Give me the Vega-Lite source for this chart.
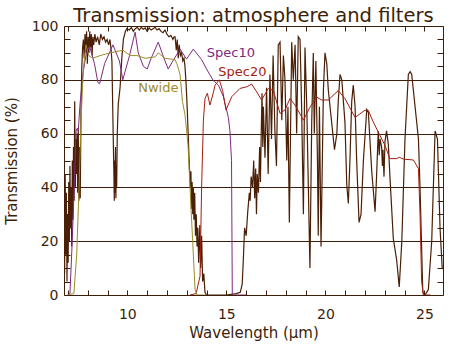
{
  "$schema": "https://vega.github.io/schema/vega-lite/v6.json",
  "width": 379,
  "height": 269,
  "autosize": "none",
  "padding": {"left": 64, "top": 26, "right": 11, "bottom": 58},
  "background": "white",
  "title": {"text": "Transmission: atmosphere and filters", "font": "DejaVu Sans", "fontSize": 19.5, "fontWeight": "normal", "color": "#3c1e0a", "anchor": "middle", "offset": 6, "dy": 13},
  "config": {
    "view": {"stroke": "#3c1e0a", "strokeWidth": 1},
    "axis": {"domain": false, "labelFont": "DejaVu Sans", "titleFont": "DejaVu Sans", "labelColor": "#3c1e0a", "titleColor": "#3c1e0a", "tickColor": "#3c1e0a", "labelFontSize": 14, "titleFontSize": 15, "titleFontWeight": "normal"}
  },
  "datasets": {
    "atm": [
      {"x":6.80,"y":30},{"x":6.83,"y":8},{"x":6.86,"y":45},{"x":6.89,"y":15},{"x":6.92,"y":38},{"x":6.95,"y":5},{"x":6.98,"y":30},{"x":7.01,"y":12},{"x":7.04,"y":42},{"x":7.07,"y":20},{"x":7.10,"y":48},{"x":7.13,"y":25},{"x":7.16,"y":40},{"x":7.19,"y":18},{"x":7.22,"y":50},{"x":7.25,"y":28},{"x":7.28,"y":55},{"x":7.31,"y":35},{"x":7.34,"y":72},{"x":7.37,"y":40},{"x":7.40,"y":58},{"x":7.43,"y":45},{"x":7.46,"y":60},{"x":7.49,"y":38},{"x":7.52,"y":62},{"x":7.55,"y":35},{"x":7.58,"y":55},{"x":7.62,"y":36},{"x":7.66,"y":70},{"x":7.70,"y":85},{"x":7.74,"y":92},{"x":7.78,"y":95},{"x":7.82,"y":88},{"x":7.86,"y":97},{"x":7.90,"y":90},{"x":7.94,"y":98},{"x":7.98,"y":86},{"x":8.02,"y":96},{"x":8.06,"y":90},{"x":8.10,"y":98},{"x":8.14,"y":92},{"x":8.18,"y":97},{"x":8.22,"y":89},{"x":8.26,"y":96},{"x":8.30,"y":93},{"x":8.36,"y":97},{"x":8.42,"y":94},{"x":8.50,"y":96},{"x":8.58,"y":93},{"x":8.66,"y":97},{"x":8.74,"y":95},{"x":8.82,"y":96},{"x":8.90,"y":94},{"x":8.98,"y":95},{"x":9.05,"y":93},{"x":9.12,"y":95},{"x":9.18,"y":91},{"x":9.22,"y":87},{"x":9.26,"y":70},{"x":9.29,"y":57},{"x":9.32,"y":45},{"x":9.34,"y":35},{"x":9.36,"y":50},{"x":9.38,"y":38},{"x":9.40,"y":55},{"x":9.42,"y":36},{"x":9.44,"y":48},{"x":9.46,"y":40},{"x":9.49,"y":60},{"x":9.54,"y":71},{"x":9.63,"y":77},{"x":9.72,"y":88},{"x":9.80,"y":95},{"x":9.90,"y":98},{"x":9.97,"y":99},{"x":10.1,"y":98.5},{"x":10.2,"y":99.5},{"x":10.3,"y":98},{"x":10.4,"y":99},{"x":10.5,"y":99.5},{"x":10.6,"y":98.5},{"x":10.7,"y":99.5},{"x":10.8,"y":98.8},{"x":10.9,"y":99.3},{"x":11.0,"y":98},{"x":11.1,"y":99.3},{"x":11.2,"y":98.5},{"x":11.3,"y":99},{"x":11.4,"y":99.5},{"x":11.5,"y":98.5},{"x":11.6,"y":99},{"x":11.7,"y":98},{"x":11.8,"y":97.5},{"x":11.9,"y":98.5},{"x":12.0,"y":97},{"x":12.1,"y":96},{"x":12.2,"y":96.5},{"x":12.3,"y":95},{"x":12.36,"y":96},{"x":12.41,"y":96},{"x":12.47,"y":91},{"x":12.52,"y":95},{"x":12.57,"y":88},{"x":12.62,"y":93},{"x":12.68,"y":89},{"x":12.74,"y":90},{"x":12.80,"y":87},{"x":12.86,"y":88},{"x":12.91,"y":85},{"x":12.97,"y":78},{"x":13.03,"y":68},{"x":13.08,"y":58},{"x":13.13,"y":48},{"x":13.18,"y":40},{"x":13.21,"y":46},{"x":13.24,"y":32},{"x":13.27,"y":42},{"x":13.30,"y":30},{"x":13.33,"y":40},{"x":13.36,"y":28},{"x":13.40,"y":38},{"x":13.44,"y":22},{"x":13.48,"y":30},{"x":13.52,"y":18},{"x":13.56,"y":25},{"x":13.60,"y":12},{"x":13.66,"y":26},{"x":13.70,"y":10},{"x":13.75,"y":22},{"x":13.80,"y":5},{"x":13.86,"y":8},{"x":13.92,"y":1},{"x":14.0,"y":0},{"x":15.0,"y":0},{"x":15.5,"y":0.5},{"x":15.7,"y":1},{"x":15.8,"y":4},{"x":15.85,"y":12},{"x":15.92,"y":25},{"x":16.00,"y":22},{"x":16.08,"y":31},{"x":16.16,"y":38},{"x":16.20,"y":35},{"x":16.25,"y":44},{"x":16.32,"y":40},{"x":16.38,"y":50},{"x":16.43,"y":36},{"x":16.48,"y":47},{"x":16.52,"y":30},{"x":16.56,"y":45},{"x":16.62,"y":38},{"x":16.68,"y":55},{"x":16.72,"y":42},{"x":16.76,"y":60},{"x":16.80,"y":75},{"x":16.84,"y":55},{"x":16.87,"y":70},{"x":16.95,"y":51},{"x":17.03,"y":77},{"x":17.11,"y":45},{"x":17.20,"y":82},{"x":17.28,"y":58},{"x":17.36,"y":89},{"x":17.45,"y":61},{"x":17.53,"y":48},{"x":17.62,"y":93},{"x":17.71,"y":94},{"x":17.80,"y":65},{"x":17.88,"y":89},{"x":17.96,"y":80},{"x":18.05,"y":50},{"x":18.11,"y":70},{"x":18.18,"y":27},{"x":18.30,"y":94},{"x":18.38,"y":80},{"x":18.47,"y":93},{"x":18.55,"y":60},{"x":18.63,"y":96},{"x":18.72,"y":95},{"x":18.80,"y":70},{"x":18.89,"y":30},{"x":18.97,"y":92},{"x":19.06,"y":70},{"x":19.14,"y":40},{"x":19.22,"y":10},{"x":19.31,"y":64},{"x":19.39,"y":90},{"x":19.44,"y":60},{"x":19.52,"y":87},{"x":19.60,"y":50},{"x":19.64,"y":22},{"x":19.70,"y":70},{"x":19.78,"y":18},{"x":19.90,"y":76},{"x":19.98,"y":90},{"x":20.07,"y":86},{"x":20.15,"y":76},{"x":20.32,"y":64},{"x":20.46,"y":54},{"x":20.58,"y":60},{"x":20.65,"y":72},{"x":20.74,"y":82},{"x":20.83,"y":80},{"x":20.99,"y":64},{"x":21.08,"y":41},{"x":21.16,"y":34},{"x":21.24,"y":50},{"x":21.33,"y":72},{"x":21.41,"y":78},{"x":21.50,"y":70},{"x":21.58,"y":50},{"x":21.70,"y":27},{"x":21.80,"y":30},{"x":21.92,"y":50},{"x":22.09,"y":69},{"x":22.17,"y":68},{"x":22.34,"y":46},{"x":22.51,"y":31},{"x":22.59,"y":45},{"x":22.67,"y":61},{"x":22.72,"y":52},{"x":22.76,"y":58},{"x":22.84,"y":55},{"x":22.88,"y":48},{"x":22.91,"y":54},{"x":22.96,"y":44},{"x":23.01,"y":57},{"x":23.09,"y":61},{"x":23.18,"y":56},{"x":23.26,"y":44},{"x":23.43,"y":21},{"x":23.60,"y":13},{"x":23.73,"y":3},{"x":23.86,"y":20},{"x":24.02,"y":58},{"x":24.19,"y":82},{"x":24.28,"y":83},{"x":24.36,"y":82},{"x":24.53,"y":70},{"x":24.70,"y":58},{"x":24.78,"y":40},{"x":24.92,"y":1},{"x":25.03,"y":0},{"x":25.20,"y":2},{"x":25.37,"y":20},{"x":25.54,"y":61},{"x":25.66,"y":58},{"x":25.79,"y":25},{"x":25.9,"y":10}
    ],
    "filters": [
      {"s":"Spec10","x":7.00,"y":0},{"s":"Spec10","x":7.10,"y":0.5},{"s":"Spec10","x":7.19,"y":15.6},{"s":"Spec10","x":7.28,"y":33},{"s":"Spec10","x":7.36,"y":50},{"s":"Spec10","x":7.41,"y":61},{"s":"Spec10","x":7.47,"y":62},{"s":"Spec10","x":7.52,"y":61},{"s":"Spec10","x":7.61,"y":71},{"s":"Spec10","x":7.76,"y":82.5},{"s":"Spec10","x":7.93,"y":90},{"s":"Spec10","x":8.09,"y":92.5},{"s":"Spec10","x":8.34,"y":86},{"s":"Spec10","x":8.51,"y":79},{"s":"Spec10","x":8.60,"y":78.5},{"s":"Spec10","x":8.85,"y":86},{"s":"Spec10","x":9.27,"y":93},{"s":"Spec10","x":9.60,"y":87},{"s":"Spec10","x":9.77,"y":80},{"s":"Spec10","x":10.11,"y":89},{"s":"Spec10","x":10.39,"y":97.7},{"s":"Spec10","x":10.55,"y":90},{"s":"Spec10","x":10.81,"y":85},{"s":"Spec10","x":11.0,"y":84},{"s":"Spec10","x":11.20,"y":88},{"s":"Spec10","x":11.56,"y":94},{"s":"Spec10","x":11.85,"y":88},{"s":"Spec10","x":12.06,"y":84},{"s":"Spec10","x":12.3,"y":87},{"s":"Spec10","x":12.66,"y":91.4},{"s":"Spec10","x":12.99,"y":87.7},{"s":"Spec10","x":13.33,"y":91.4},{"s":"Spec10","x":13.75,"y":87.5},{"s":"Spec10","x":14.0,"y":84},{"s":"Spec10","x":14.34,"y":79.7},{"s":"Spec10","x":14.6,"y":78},{"s":"Spec10","x":14.85,"y":73.7},{"s":"Spec10","x":15.10,"y":66},{"s":"Spec10","x":15.18,"y":61},{"s":"Spec10","x":15.26,"y":50},{"s":"Spec10","x":15.30,"y":0},{"s":"Spec10","x":16.0,"y":0},
      {"s":"Spec20","x":13.16,"y":0},{"s":"Spec20","x":13.47,"y":0.5},{"s":"Spec20","x":13.67,"y":7},{"s":"Spec20","x":13.75,"y":40},{"s":"Spec20","x":13.84,"y":65},{"s":"Spec20","x":13.92,"y":73},{"s":"Spec20","x":14.04,"y":75},{"s":"Spec20","x":14.17,"y":70.6},{"s":"Spec20","x":14.30,"y":74},{"s":"Spec20","x":14.43,"y":78},{"s":"Spec20","x":14.64,"y":80},{"s":"Spec20","x":14.81,"y":76},{"s":"Spec20","x":14.98,"y":68.8},{"s":"Spec20","x":15.27,"y":73.7},{"s":"Spec20","x":15.69,"y":76.8},{"s":"Spec20","x":16.03,"y":77.4},{"s":"Spec20","x":16.28,"y":78.4},{"s":"Spec20","x":16.53,"y":75.5},{"s":"Spec20","x":16.78,"y":72.5},{"s":"Spec20","x":17.12,"y":76.8},{"s":"Spec20","x":17.37,"y":76},{"s":"Spec20","x":17.71,"y":67.5},{"s":"Spec20","x":17.96,"y":68.8},{"s":"Spec20","x":18.21,"y":73},{"s":"Spec20","x":18.47,"y":70.6},{"s":"Spec20","x":18.89,"y":65},{"s":"Spec20","x":19.22,"y":69.8},{"s":"Spec20","x":19.56,"y":73.6},{"s":"Spec20","x":19.81,"y":72.5},{"s":"Spec20","x":20.15,"y":72.5},{"s":"Spec20","x":20.65,"y":76},{"s":"Spec20","x":20.99,"y":73},{"s":"Spec20","x":21.50,"y":66},{"s":"Spec20","x":22.00,"y":68.7},{"s":"Spec20","x":22.17,"y":68.6},{"s":"Spec20","x":22.42,"y":64.3},{"s":"Spec20","x":22.67,"y":60.6},{"s":"Spec20","x":23.01,"y":55.6},{"s":"Spec20","x":23.26,"y":50.7},{"s":"Spec20","x":23.60,"y":50.7},{"s":"Spec20","x":23.73,"y":51.2},{"s":"Spec20","x":23.94,"y":50.5},{"s":"Spec20","x":24.44,"y":50.2},{"s":"Spec20","x":24.70,"y":47},{"s":"Spec20","x":24.78,"y":30},{"s":"Spec20","x":24.86,"y":5},{"s":"Spec20","x":24.95,"y":0},{"s":"Spec20","x":25.3,"y":0},
      {"s":"Nwide","x":6.95,"y":0},{"s":"Nwide","x":7.30,"y":0.5},{"s":"Nwide","x":7.44,"y":15},{"s":"Nwide","x":7.56,"y":40},{"s":"Nwide","x":7.66,"y":65},{"s":"Nwide","x":7.78,"y":84},{"s":"Nwide","x":7.91,"y":93},{"s":"Nwide","x":8.05,"y":89},{"s":"Nwide","x":8.26,"y":88},{"s":"Nwide","x":8.62,"y":89},{"s":"Nwide","x":9.12,"y":90},{"s":"Nwide","x":9.78,"y":91},{"s":"Nwide","x":10.14,"y":89},{"s":"Nwide","x":10.49,"y":89},{"s":"Nwide","x":10.89,"y":88},{"s":"Nwide","x":11.40,"y":88.5},{"s":"Nwide","x":11.56,"y":90},{"s":"Nwide","x":11.90,"y":88},{"s":"Nwide","x":12.41,"y":87.5},{"s":"Nwide","x":12.50,"y":86},{"s":"Nwide","x":12.66,"y":82},{"s":"Nwide","x":12.78,"y":72},{"s":"Nwide","x":12.91,"y":67},{"s":"Nwide","x":13.06,"y":56},{"s":"Nwide","x":13.25,"y":27},{"s":"Nwide","x":13.42,"y":2},{"s":"Nwide","x":13.52,"y":0},{"s":"Nwide","x":14.0,"y":0}
    ],
    "labels": [
      {"s":"Spec10","x":14.01,"y":90},
      {"s":"Spec20","x":14.59,"y":82.8},
      {"s":"Nwide","x":10.55,"y":76.8}
    ]
  },
  "resolve": {"axis": {"x": "independent", "y": "independent"}},
  "layer": [
    {
      "data": {"name": "atm"},
      "mark": {"type": "line", "color": "#4a1f06", "strokeWidth": 1.2, "clip": true},
      "encoding": {
        "x": {"field": "x", "type": "quantitative",
          "scale": {"domain": [6.8, 25.94], "nice": false, "zero": false},
          "axis": {"orient": "bottom", "values": [7,8,9,10,11,12,13,14,15,16,17,18,19,20,21,22,23,24,25], "labelExpr": "datum.value % 5 === 0 ? datum.label : ''", "tickSize": -5, "labelPadding": 17, "grid": false, "title": "Wavelength (μm)", "titlePadding": 4}},
        "y": {"field": "y", "type": "quantitative",
          "scale": {"domain": [0, 100], "nice": false, "zero": false},
          "axis": {"orient": "left", "values": [0,5,10,15,20,25,30,35,40,45,50,55,60,65,70,75,80,85,90,95,100], "labelExpr": "datum.value % 20 === 0 ? datum.label : ''", "tickSize": -6, "labelPadding": 12, "grid": true,
            "gridColor": {"condition": {"test": "datum.value % 20 === 0 && datum.value > 0 && datum.value < 100", "value": "#3c1e0a"}, "value": "transparent"},
            "title": "Transmission (%)", "titlePadding": 12}}
      }
    },
    {
      "data": {"name": "filters"},
      "mark": {"type": "line", "strokeWidth": 1, "clip": true},
      "encoding": {
        "x": {"field": "x", "type": "quantitative",
          "scale": {"domain": [6.8, 25.94], "nice": false, "zero": false},
          "axis": {"orient": "top", "values": [7,8,9,10,11,12,13,14,15,16,17,18,19,20,21,22,23,24,25], "labels": false, "tickSize": -5, "grid": false, "title": null}},
        "y": {"field": "y", "type": "quantitative",
          "scale": {"domain": [0, 100], "nice": false, "zero": false},
          "axis": {"orient": "right", "values": [0,5,10,15,20,25,30,35,40,45,50,55,60,65,70,75,80,85,90,95,100], "labels": false, "tickSize": -6, "grid": false, "title": null}},
        "color": {"field": "s", "type": "nominal", "scale": {"domain": ["Spec10", "Spec20", "Nwide"], "range": ["#7e2a7e", "#a31e10", "#9c8c26"]}, "legend": null},
        "detail": {"field": "s"}
      }
    },
    {
      "data": {"name": "labels"},
      "mark": {"type": "text", "align": "left", "baseline": "middle", "font": "DejaVu Sans", "fontSize": 13},
      "encoding": {
        "x": {"field": "x", "type": "quantitative", "axis": null},
        "y": {"field": "y", "type": "quantitative", "axis": null},
        "text": {"field": "s"},
        "color": {"field": "s", "type": "nominal", "legend": null}
      }
    }
  ]
}
